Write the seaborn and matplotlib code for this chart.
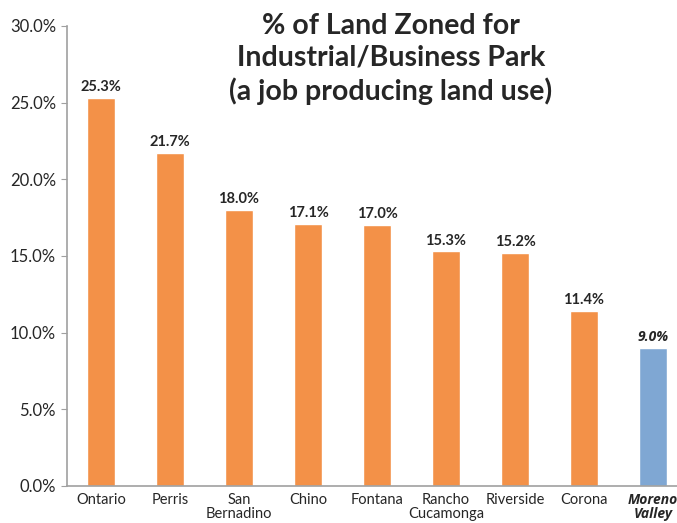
import matplotlib
matplotlib.use("Agg")
import matplotlib.pyplot as plt
import seaborn as sns
import pandas as pd
from matplotlib.ticker import FuncFormatter

# -----------------------------
# DATA
# -----------------------------
cities = ["Ontario", "Perris", "San\nBernadino", "Chino", "Fontana",
          "Rancho\nCucamonga", "Riverside", "Corona", "Moreno\nValley"]
pct_industrial = [25.3, 21.7, 18.0, 17.1, 17.0, 15.3, 15.2, 11.4, 9.0]
highlight_city = "Moreno\nValley"

ORANGE = "#F39148"
BLUE = "#7FA7D3"

sns.set_style("white")
plt.rcParams["font.family"] = ["Lato", "DejaVu Sans"]
ITALIC_FAMILY = ["Open Sans", "DejaVu Sans"]

df = pd.DataFrame({"city": cities, "pct": pct_industrial})
palette = {c: (BLUE if c == highlight_city else ORANGE) for c in cities}

fig = plt.figure(figsize=(6.77, 5.23), dpi=100)
# axes runs a little past the right edge, like the cropped original
ax = fig.add_axes([66.5 / 677, 37 / 523, 621 / 677, 460 / 523])

sns.barplot(data=df, x="city", y="pct", hue="city", palette=palette,
            dodge=False, legend=False, width=0.4, saturation=1, ax=ax)

ax.set_ylim(0, 30)
ax.set_xlim(-0.5, len(cities) - 0.5)
ax.set_yticks([0, 5, 10, 15, 20, 25, 30])
ax.yaxis.set_major_formatter(FuncFormatter(lambda v, _: f"{v:.1f}%"))
ax.tick_params(axis="y", labelsize=12, length=4, color="#A0A0A0", direction="out", left=True)
ax.tick_params(axis="x", labelsize=10.5, length=0, pad=5)
ax.set_xlabel("")
ax.set_ylabel("")

for side in ["top", "right"]:
    ax.spines[side].set_visible(False)
for side in ["left", "bottom"]:
    ax.spines[side].set_color("#A0A0A0")
    ax.spines[side].set_linewidth(1.2)

# value labels
for i, (c, v) in enumerate(zip(cities, pct_industrial)):
    if c == highlight_city:
        ax.text(i, v + 0.25, f"{v:.1f}%", ha="center", va="bottom",
                fontsize=10, fontweight="bold", style="italic", family=ITALIC_FAMILY)
    else:
        ax.text(i, v + 0.25, f"{v:.1f}%", ha="center", va="bottom",
                fontsize=10.5, fontweight="bold")

for lbl in ax.get_xticklabels():
    lbl.set_linespacing(1.05)
    if lbl.get_text() == highlight_city:
        lbl.set_fontweight("bold")
        lbl.set_style("italic")
        lbl.set_family(ITALIC_FAMILY)
        lbl.set_fontsize(10)

fig.text(391 / 677, 1 - 59 / 523,
         "% of Land Zoned for\nIndustrial/Business Park\n(a job producing land use)",
         ha="center", va="center", fontsize=20.5, fontweight="bold", linespacing=1.3)

fig.savefig("out.png", dpi=100)
